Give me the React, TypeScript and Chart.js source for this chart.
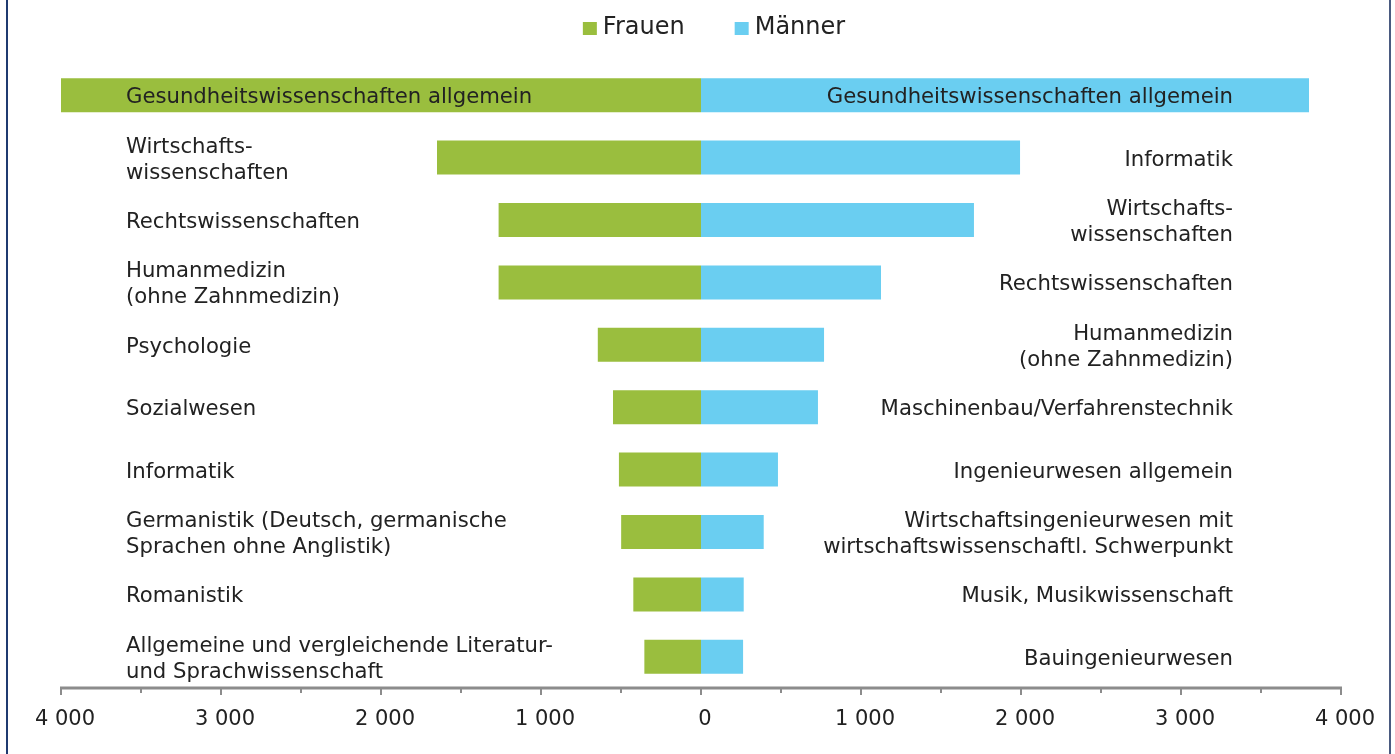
import React, { useEffect, useRef } from 'react';
import { Chart, registerables } from 'chart.js';

Chart.register(...registerables);

const leftLabels = [
  'Gesundheitswissenschaften allgemein',
  'Wirtschafts-\nwissenschaften',
  'Rechtswissenschaften',
  'Humanmedizin\n(ohne Zahnmedizin)',
  'Psychologie',
  'Sozialwesen',
  'Informatik',
  'Germanistik (Deutsch, germanische\nSprachen ohne Anglistik)',
  'Romanistik',
  'Allgemeine und vergleichende Literatur-\nund Sprachwissenschaft',
];

const rightLabels = [
  'Gesundheitswissenschaften allgemein',
  'Informatik',
  'Wirtschafts-\nwissenschaften',
  'Rechtswissenschaften',
  'Humanmedizin\n(ohne Zahnmedizin)',
  'Maschinenbau/Verfahrenstechnik',
  'Ingenieurwesen allgemein',
  'Wirtschaftsingenieurwesen mit\nwirtschaftswissenschaftl. Schwerpunkt',
  'Musik, Musikwissenschaft',
  'Bauingenieurwesen',
];

// Frauen plotted to the left (negative), Männer to the right
const frauen = [-4000, -1650, -1265, -1265, -645, -550, -513, -499, -423, -354];
const maenner = [3800, 1994, 1706, 1125, 769, 731, 481, 392, 267, 263];

const seriesNames = ['Frauen', 'Männer'];
const seriesColors = ['#9abe3e', '#6acef1'];

const FONT = '"DejaVu Sans", Verdana, sans-serif';
const TEXT = '#222222';

const formatTick = (v: number) => {
  const a = Math.abs(v);
  if (a === 0) return '0';
  const th = Math.floor(a / 1000);
  const rest = String(a % 1000).padStart(3, '0');
  return th + ' ' + rest;
};

const decoPlugin = {
  id: 'deco',
  afterDraw(chart: any) {
    const { ctx, chartArea } = chart;
    const x = chart.scales.x;
    const y = chart.scales.y;
    ctx.save();
    // axis line
    ctx.strokeStyle = '#8c8c8c';
    ctx.lineWidth = 3;
    ctx.beginPath();
    ctx.moveTo(chartArea.left - 1, chartArea.bottom);
    ctx.lineTo(chartArea.right + 1, chartArea.bottom);
    ctx.stroke();
    // tick marks
    ctx.lineWidth = 2;
    for (const t of x.ticks) {
      const px = Math.round(x.getPixelForValue(t.value));
      const major = t.value % 1000 === 0;
      ctx.beginPath();
      ctx.moveTo(px, chartArea.bottom);
      ctx.lineTo(px, chartArea.bottom + (major ? 7 : 5));
      ctx.stroke();
    }
    // category labels
    ctx.fillStyle = TEXT;
    ctx.font = '21.2px ' + FONT;
    ctx.textBaseline = 'middle';
    const lh = 26;
    for (let i = 0; i < leftLabels.length; i++) {
      const cy = y.getPixelForValue(i) + 2.5;
      const ll = leftLabels[i].split('\n');
      ctx.textAlign = 'left';
      ll.forEach((line, k) => {
        ctx.fillText(line, chartArea.left + 65, cy - ((ll.length - 1) * lh) / 2 + k * lh);
      });
      const rl = rightLabels[i].split('\n');
      ctx.textAlign = 'right';
      rl.forEach((line, k) => {
        ctx.fillText(line, chartArea.right - 108, cy - ((rl.length - 1) * lh) / 2 + k * lh);
      });
    }
    // legend
    ctx.font = '24px ' + FONT;
    const box = 14;
    const gap = 6;
    const itemGap = 50;
    const widths = seriesNames.map((n) => ctx.measureText(n).width);
    const total = widths.reduce((s, w) => s + box + gap + w, 0) + itemGap * (seriesNames.length - 1);
    let lx = (chartArea.left + chartArea.right) / 2 + 13 - total / 2;
    const ly = 28;
    ctx.textAlign = 'left';
    seriesNames.forEach((n, i) => {
      ctx.fillStyle = seriesColors[i];
      ctx.fillRect(lx, ly - 6, box, 13);
      ctx.fillStyle = TEXT;
      ctx.fillText(n, lx + box + gap, ly);
      lx += box + gap + widths[i] + itemGap;
    });
    ctx.restore();
  },
};

export default function App() {
  const ref = useRef<HTMLCanvasElement | null>(null);
  useEffect(() => {
    if (!ref.current) return;
    const chart = new Chart(ref.current, {
      type: 'bar',
      data: {
        labels: leftLabels.map((l) => l.replace('\n', ' ')),
        datasets: [
          { label: seriesNames[0], data: frauen, backgroundColor: seriesColors[0], borderWidth: 0 },
          { label: seriesNames[1], data: maenner, backgroundColor: seriesColors[1], borderWidth: 0 },
        ],
      },
      options: {
        indexAxis: 'y',
        animation: false,
        responsive: true,
        maintainAspectRatio: false,
        layout: { padding: { top: 64, left: 61, right: 54, bottom: 0 } },
        plugins: { legend: { display: false }, tooltip: { enabled: false } },
        datasets: { bar: { categoryPercentage: 1, barPercentage: 0.545 } },
        scales: {
          x: {
            type: 'linear',
            min: -4000,
            max: 4000,
            stacked: true,
            grid: { display: false },
            border: { display: false },
            ticks: {
              stepSize: 500,
              autoSkip: false,
              maxRotation: 0,
              padding: 11,
              labelOffset: 4,
              color: TEXT,
              font: { family: FONT, size: 21 },
              callback: (v: any) => (Number(v) % 1000 === 0 ? formatTick(Number(v)) : ''),
            },
            afterFit: (s: any) => {
              s.height = 66;
            },
          },
          y: { stacked: true, display: false },
        },
      } as any,
      plugins: [decoPlugin],
    });
    return () => chart.destroy();
  }, []);

  return (
    <div style={{ position: 'fixed', left: 0, top: 0, width: 1395, height: 754, background: '#fff' }}>
      <div style={{ position: 'absolute', left: 0, top: 0, width: 1395, height: 754 }}>
        <canvas ref={ref} />
      </div>
      <div style={{ position: 'absolute', left: 6, top: 0, width: 2, height: 754, background: '#1f3a70' }} />
      <div style={{ position: 'absolute', left: 1389, top: 0, width: 2, height: 754, background: '#4a5a80' }} />
    </div>
  );
}
